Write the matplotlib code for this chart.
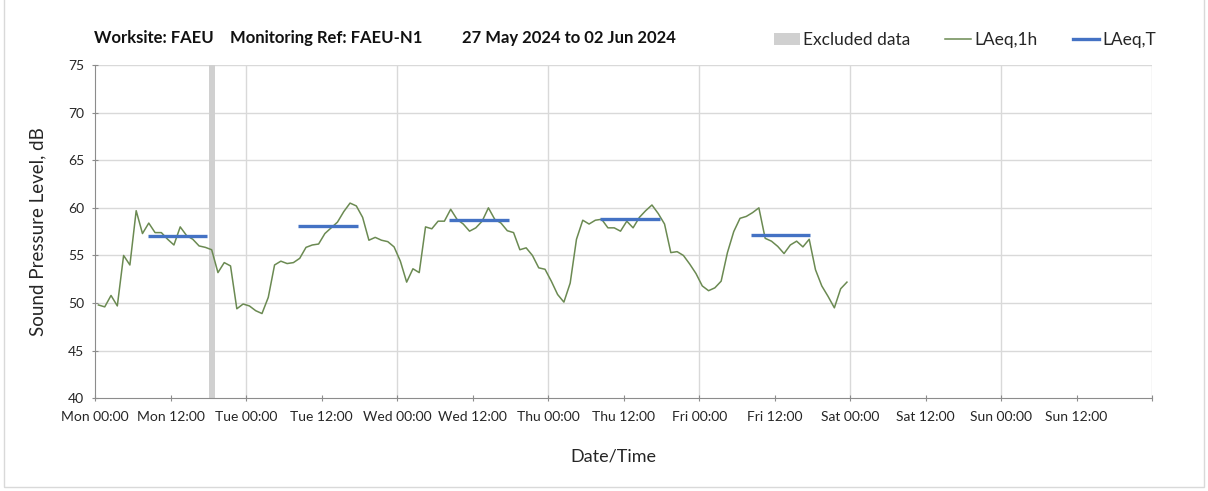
"""Noise monitoring chart: hourly LAeq with daytime LAeq,T averages for one week."""
import matplotlib

matplotlib.use("Agg")
import matplotlib.pyplot as plt  # noqa: E402
from matplotlib.lines import Line2D  # noqa: E402
from matplotlib.patches import Patch, Rectangle  # noqa: E402
import numpy as np  # noqa: E402

plt.rcParams["font.family"] = ["Lato", "DejaVu Sans"]

# hourly LAeq,1h (dB), one value per hour from Mon 00:00, plotted mid-hour
laeq_1h = [
    49.8, 49.6, 50.8, 49.7, 55.0, 54.0, 59.7, 57.3, 58.4, 57.4,
    57.4, 56.7, 56.1, 58.0, 57.1, 56.7, 56.0, 55.85, 55.6, 53.2,
    54.25, 53.9, 49.4, 49.9, 49.7, 49.2, 48.9, 50.6, 54.0, 54.4,
    54.15, 54.25, 54.7, 55.85, 56.1, 56.2, 57.3, 57.9, 58.5, 59.6,
    60.5, 60.2, 59.0, 56.6, 56.9, 56.6, 56.45, 55.9, 54.4, 52.2,
    53.6, 53.2, 58.0, 57.8, 58.6, 58.6, 59.85, 58.8, 58.3, 57.55,
    57.9, 58.6, 60.0, 58.8, 58.4, 57.6, 57.4, 55.6, 55.8, 55.0,
    53.7, 53.55, 52.3, 50.9, 50.1, 52.1, 56.7, 58.7, 58.3, 58.7,
    58.8, 57.9, 57.9, 57.55, 58.6, 57.9, 59.0, 59.7, 60.3, 59.4,
    58.3, 55.3, 55.4, 55.0, 54.1, 53.1, 51.8, 51.3, 51.6, 52.3,
    55.3, 57.5, 58.9, 59.1, 59.5, 60.0, 56.8, 56.5, 55.95, 55.2,
    56.1, 56.5, 55.9, 56.7, 53.5, 51.8, 50.7, 49.5, 51.5, 52.2,
]

# daytime LAeq,T per day (day index from Monday, start/end hour of day)
laeqt_day = [0, 1, 2, 3, 4]
laeqt_start = [8.3, 8.3, 8.3, 8.3, 8.3]
laeqt_end = [17.7, 17.7, 17.7, 17.7, 17.7]
laeqt_value = [57.0, 58.05, 58.75, 58.8, 57.2]

# excluded period, hours from Mon 00:00
excluded_start = [18.0]
excluded_end = [19.0]

tick_labels = ["Mon 00:00", "Mon 12:00", "Tue 00:00", "Tue 12:00", "Wed 00:00",
               "Wed 12:00", "Thu 00:00", "Thu 12:00", "Fri 00:00", "Fri 12:00",
               "Sat 00:00", "Sat 12:00", "Sun 00:00", "Sun 12:00", ""]

GREEN = "#6b8a52"
BLUE = "#4472c4"
GREY_BAR = "#d0d0d0"
GRID = "#d9d9d9"
AXIS = "#8c8c8c"
TEXT = "#262626"

fig = plt.figure(figsize=(12.08, 4.91), dpi=100)
ax = fig.add_axes([95.3 / 1208, 1 - 398.3 / 491, (1152 - 95.3) / 1208, (398.3 - 65) / 491])

# light chart-area border
fig.patches.append(Rectangle((4 / 1208, 4 / 491), 1200 / 1208, 1.2, transform=fig.transFigure,
                             fill=False, edgecolor="#d9d9d9", lw=1.0))

hours = np.arange(len(laeq_1h)) + 0.5

for s, e in zip(excluded_start, excluded_end):
    ax.axvspan(s, e, color=GREY_BAR, lw=0, zorder=1)

ax.plot(hours, laeq_1h, color=GREEN, lw=1.1, zorder=3)
for d, s, e, v in zip(laeqt_day, laeqt_start, laeqt_end, laeqt_value):
    ax.plot([24 * d + s, 24 * d + e], [v, v], color=BLUE, lw=2.4, solid_capstyle="butt", zorder=4)

ax.set_xlim(0, 168)
ax.set_ylim(40, 75)
ax.set_xticks(np.arange(0, 169, 12))
ax.set_xticklabels(tick_labels)
ax.set_yticks(np.arange(40, 76, 5))
ax.tick_params(axis="both", colors=AXIS, labelcolor=TEXT, labelsize=10, length=4, direction="inout")
ax.tick_params(axis="x", pad=7)
ax.tick_params(axis="y", pad=6)

for y in np.arange(45, 76, 5):
    ax.axhline(y, color=GRID, lw=1.0, zorder=0)
for x in np.arange(24, 169, 24):
    ax.axvline(x, color=GRID, lw=1.0, zorder=0)

for side in ("top", "right"):
    ax.spines[side].set_visible(False)
for side in ("left", "bottom"):
    ax.spines[side].set_color(AXIS)

ax.set_ylabel("Sound Pressure Level, dB", fontsize=13.5, color=TEXT)
ax.yaxis.set_label_coords((46 - 95.3) / 1056.7, 0.5)
ax.set_xlabel("Date/Time", fontsize=13, color=TEXT)
ax.xaxis.set_label_coords((613 - 95.3) / 1056.7, -(449 - 398.3) / 333.3)

# title pieces
ty = 1 - 38 / 491
title_kw = dict(fontsize=12, fontweight="bold", color="#111111", va="center")
fig.text(94 / 1208, ty, "Worksite: FAEU", **title_kw)
fig.text(230 / 1208, ty, "Monitoring Ref: FAEU-N1", **title_kw)
fig.text(462 / 1208, ty, "27 May 2024 to 02 Jun 2024", **title_kw)

handles = [Patch(facecolor=GREY_BAR, edgecolor="none"),
           Line2D([], [], color=GREEN, lw=1.1),
           Line2D([], [], color=BLUE, lw=2.4)]
fig.legend(handles, ["Excluded data", "LAeq,1h", "LAeq,T"], ncol=3, frameon=False,
           loc="center left", bbox_to_anchor=(758 / 1208, 1 - 40 / 491), fontsize=12.5,
           handlelength=1.5, handletextpad=0.2, columnspacing=2.0, labelcolor=TEXT)

fig.savefig("out.png", dpi=100)
